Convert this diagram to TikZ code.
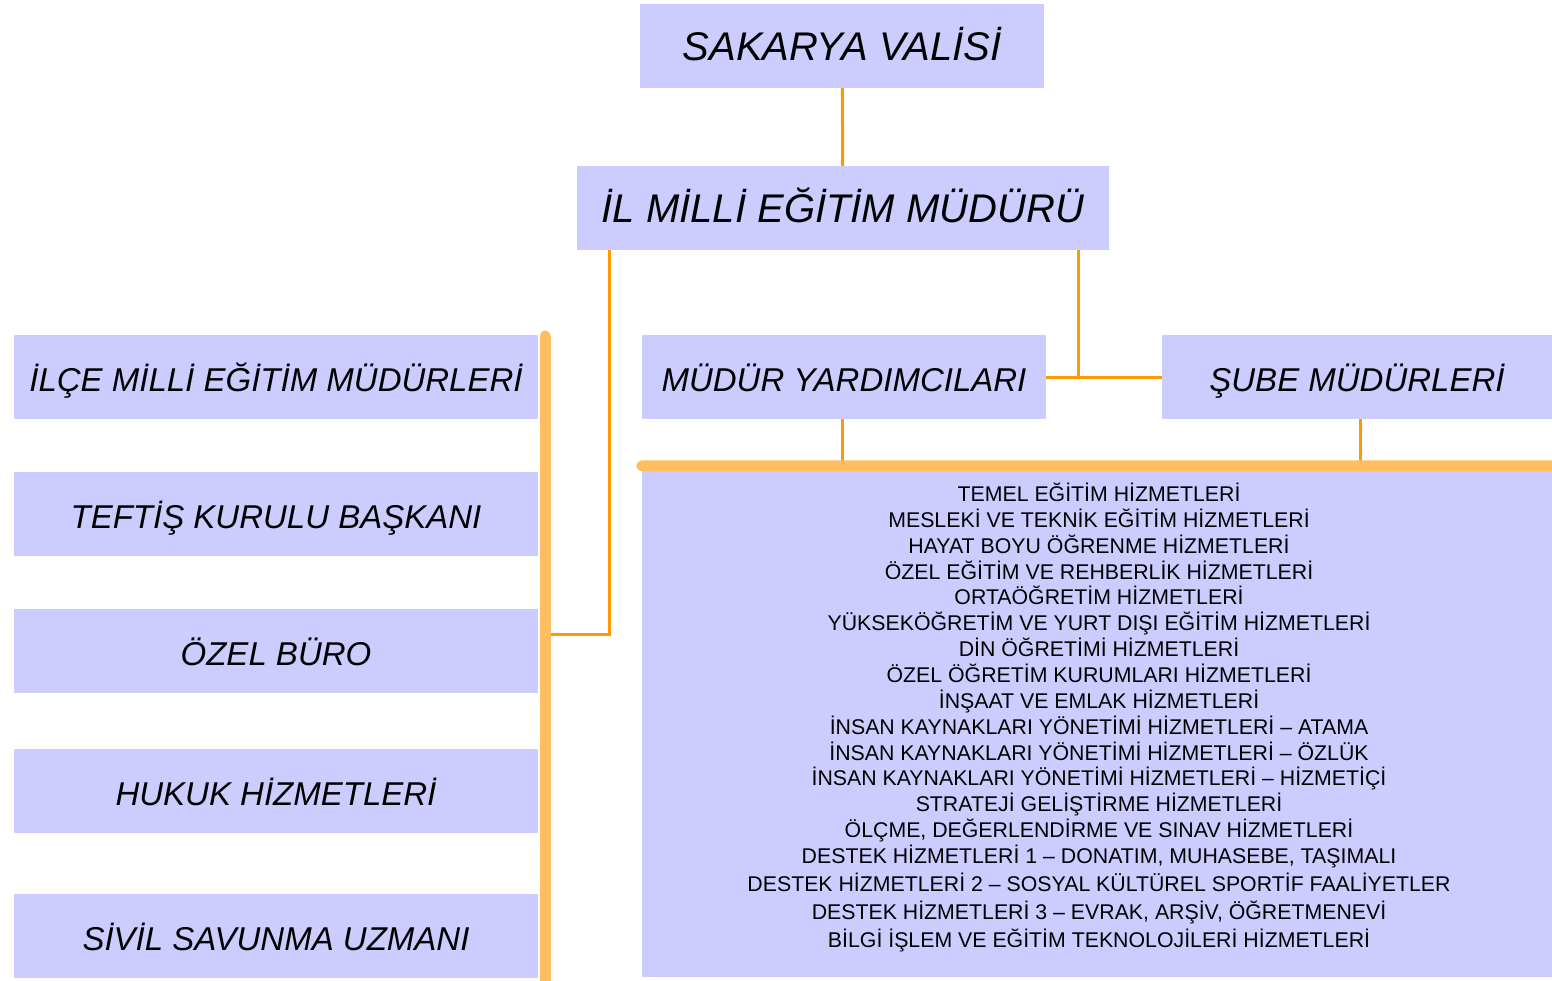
\documentclass[tikz,border=0pt]{standalone}
\usepackage{fontspec}
\setmainfont{Liberation Sans}
\definecolor{boxc}{HTML}{CCCCFF}
\definecolor{lineo}{HTML}{FF9900}
\definecolor{baro}{HTML}{FFBF60}
\begin{document}
\begin{tikzpicture}[x=1pt,y=-1pt,
  box/.style={rectangle,fill=boxc,inner sep=0pt,minimum height=84pt,text height=28.6pt,text depth=0pt,font=\fontsize{33}{33}\selectfont\itshape},
  bigbox/.style={box,text height=29pt,font=\fontsize{40}{40}\selectfont\itshape},
  conn/.style={draw=lineo,line width=3pt},
  bar/.style={draw=baro,line width=11pt,line cap=round},
  item/.style={anchor=base,inner sep=0pt,font=\fontsize{21.3}{21.3}\selectfont}]
\useasboundingbox (0,0) rectangle (1552,981);
\node[bigbox,minimum width=404pt] (vali) at (842,46) {SAKARYA VALİSİ};
\node[bigbox,minimum width=532pt] (il) at (843,208) {İL MİLLİ EĞİTİM MÜDÜRÜ};
\node[box,minimum width=524pt] (ilce) at (276,377) {İLÇE MİLLİ EĞİTİM MÜDÜRLERİ};
\node[box,minimum width=524pt] (teftis) at (276,514) {TEFTİŞ KURULU BAŞKANI};
\node[box,minimum width=524pt] (buro) at (276,651) {ÖZEL BÜRO};
\node[box,minimum width=524pt] (hukuk) at (276,791) {HUKUK HİZMETLERİ};
\node[box,minimum width=524pt] (sivil) at (276,936) {SİVİL SAVUNMA UZMANI};
\node[box,minimum width=404pt] (mud) at (844,377) {MÜDÜR YARDIMCILARI};
\node[box,minimum width=390pt] (sube) at (1357,377) {ŞUBE MÜDÜRLERİ};
\node[rectangle,fill=boxc,inner sep=0pt,minimum width=910pt,minimum height=511pt] (big) at (1097,721.5) {};
\coordinate (barTop) at (545,336);
\coordinate (barBot) at (545,995);
\coordinate (barJ) at (545,634.5);
\coordinate (topR) at (1560,466);
% connectors
\draw[conn] (vali) -- (il);
\draw[conn] ([xshift=33pt]il.south west) |- (barJ);
\draw[conn] ([xshift=-31pt]il.south east) |- (mud.east);
\draw[conn] (mud.east) -- (sube.west);
\draw[conn] ([xshift=-2pt]mud.south) -- ([xshift=-2pt]mud.south |- big.north);
\draw[conn] ([xshift=3pt]sube.south) -- ([xshift=3pt]sube.south |- big.north);
\draw[bar] (barTop) -- (barBot);
\draw[bar] (big.north west) -- (topR);
% list
\foreach \t [count=\i] in {
 TEMEL EĞİTİM HİZMETLERİ,
 MESLEKİ VE TEKNİK EĞİTİM HİZMETLERİ,
 HAYAT BOYU ÖĞRENME HİZMETLERİ,
 ÖZEL EĞİTİM VE REHBERLİK HİZMETLERİ,
 ORTAÖĞRETİM HİZMETLERİ,
 YÜKSEKÖĞRETİM VE YURT DIŞI EĞİTİM HİZMETLERİ,
 DİN ÖĞRETİMİ HİZMETLERİ,
 ÖZEL ÖĞRETİM KURUMLARI HİZMETLERİ,
 İNŞAAT VE EMLAK HİZMETLERİ,
 İNSAN KAYNAKLARI YÖNETİMİ HİZMETLERİ – ATAMA,
 İNSAN KAYNAKLARI YÖNETİMİ HİZMETLERİ – ÖZLÜK,
 İNSAN KAYNAKLARI YÖNETİMİ HİZMETLERİ – HİZMETİÇİ,
 STRATEJİ GELİŞTİRME HİZMETLERİ,
 ÖLÇME{,} DEĞERLENDİRME VE SINAV HİZMETLERİ,
 DESTEK HİZMETLERİ 1 – DONATIM{,} MUHASEBE{,} TAŞIMALI,
 DESTEK HİZMETLERİ 2 – SOSYAL KÜLTÜREL SPORTİF FAALİYETLER,
 DESTEK HİZMETLERİ 3 – EVRAK{,} ARŞİV{,} ÖĞRETMENEVİ,
 BİLGİ İŞLEM VE EĞİTİM TEKNOLOJİLERİ HİZMETLERİ}
{
 \pgfmathsetmacro{\yy}{\i<16 ? 501.5+25.86*(\i-1) : (\i==16 ? 891.5 : (\i==17 ? 919.5 : 947.5))}
 \node[item] (l\i) at (1099,\yy) {\t};
}
\end{tikzpicture}
\end{document}
